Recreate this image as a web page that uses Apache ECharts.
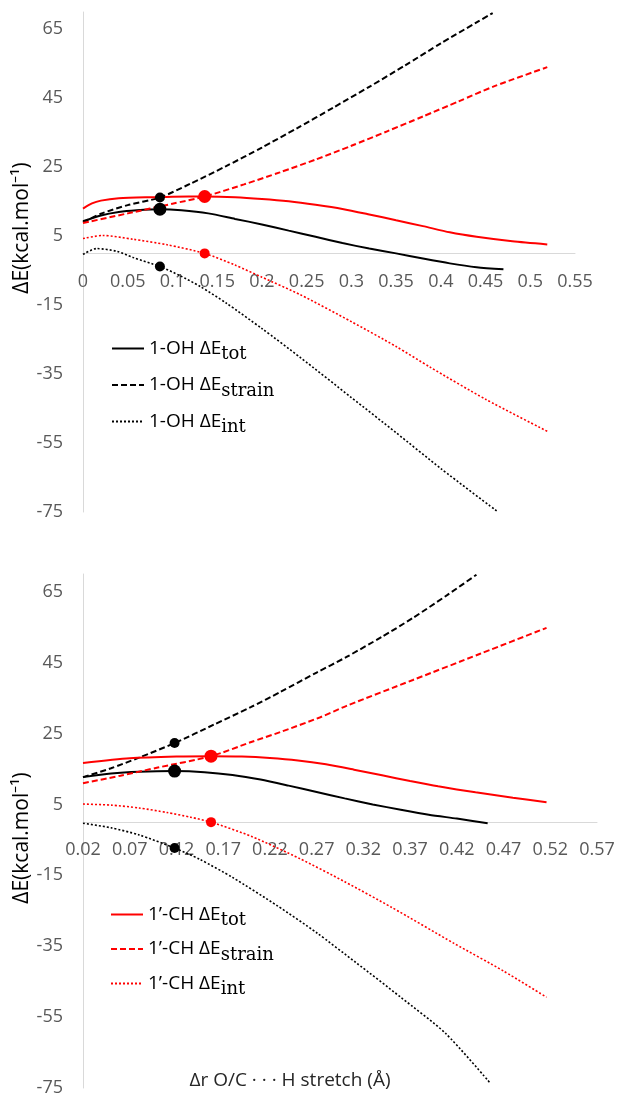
<!DOCTYPE html>
<html>
<head>
<meta charset="utf-8">
<script src="https://cdn.jsdelivr.net/npm/echarts@6/dist/echarts.min.js"></script>
<style>
  html, body { margin: 0; padding: 0; background: #fff; }
  #chart { width: 618px; height: 1093px; }
</style>
</head>
<body>
<div id="chart"></div>
<script>
// ---- top panel (x from 0) ----
const topOhTotX = [0, 0.02, 0.04, 0.06, 0.086, 0.11, 0.14, 0.17, 0.2, 0.23, 0.26, 0.29, 0.32, 0.35, 0.38, 0.41, 0.44, 0.47];
const topOhTotY = [9.3, 11.0, 12.0, 12.5, 12.8, 12.5, 11.6, 10.0, 8.4, 6.6, 4.8, 3.0, 1.4, 0.0, -1.5, -2.9, -4.0, -4.6];
const topOhStrainX = [0, 0.02, 0.05, 0.086, 0.12, 0.16, 0.2, 0.24, 0.28, 0.32, 0.36, 0.4, 0.44, 0.458];
const topOhStrainY = [9.0, 11.5, 14.0, 16.2, 20.2, 25.3, 30.7, 36.4, 42.3, 48.3, 54.5, 60.9, 67.0, 69.7];
const topOhIntX = [0, 0.015, 0.038, 0.056, 0.086, 0.108, 0.131, 0.16, 0.2, 0.243, 0.3, 0.35, 0.4, 0.463];
const topOhIntY = [-0.3, 1.4, 0.6, -1.2, -3.8, -6.4, -9.6, -14.4, -21.8, -30.2, -41.8, -52.0, -62.4, -74.8];
const topChTotX = [0, 0.01, 0.02, 0.04, 0.07, 0.1, 0.136, 0.17, 0.2, 0.23, 0.26, 0.29, 0.32, 0.35, 0.38, 0.41, 0.44, 0.48, 0.519];
const topChTotY = [13.0, 14.5, 15.3, 16.0, 16.3, 16.4, 16.5, 16.3, 15.8, 15.1, 14.1, 12.9, 11.3, 9.6, 7.9, 6.1, 4.8, 3.5, 2.6];
const topChStrainX = [0, 0.05, 0.1, 0.136, 0.18, 0.22, 0.26, 0.3, 0.34, 0.38, 0.42, 0.46, 0.519];
const topChStrainY = [8.8, 11.6, 14.4, 16.5, 20.0, 23.5, 27.2, 31.2, 35.4, 39.7, 44.1, 48.5, 54.0];
const topChIntX = [0, 0.022, 0.056, 0.094, 0.136, 0.17, 0.2, 0.243, 0.3, 0.35, 0.388, 0.45, 0.519];
const topChIntY = [4.3, 5.2, 4.1, 2.5, 0, -3.4, -6.9, -12.0, -19.8, -27.0, -33.0, -42.3, -51.6];
// highlighted points: [x, tot, strain, int]
const topOhMark = [0.086, 12.8, 16.2, -3.8];
const topChMark = [0.136, 16.5, 16.5, 0];

// ---- bottom panel (x from 0.02) ----
const botOhTotX = [0.02, 0.05, 0.08, 0.118, 0.15, 0.18, 0.21, 0.24, 0.27, 0.3, 0.33, 0.36, 0.39, 0.42, 0.453];
const botOhTotY = [12.7, 13.7, 14.2, 14.4, 14.1, 13.3, 12.0, 10.3, 8.5, 6.7, 5.0, 3.5, 2.1, 1.0, -0.3];
const botOhStrainX = [0.02, 0.05, 0.08, 0.118, 0.16, 0.2, 0.231, 0.27, 0.302, 0.34, 0.373, 0.41, 0.441];
const botOhStrainY = [12.7, 15.2, 18.2, 22.3, 27.5, 32.5, 36.7, 42.2, 46.6, 52.3, 57.6, 64.1, 69.8];
const botOhIntX = [0.02, 0.05, 0.08, 0.118, 0.145, 0.18, 0.228, 0.27, 0.312, 0.36, 0.408, 0.455];
const botOhIntY = [-0.3, -1.6, -3.6, -7.3, -10.5, -15.6, -23.6, -31.2, -39.6, -49.4, -59.6, -73.4];
const botChTotX = [0.02, 0.07, 0.12, 0.157, 0.19, 0.22, 0.25, 0.28, 0.31, 0.34, 0.37, 0.4, 0.44, 0.48, 0.516];
const botChTotY = [16.7, 18.0, 18.5, 18.6, 18.5, 18.1, 17.4, 16.3, 14.8, 13.2, 11.6, 10.1, 8.4, 6.9, 5.6];
const botChStrainX = [0.02, 0.06, 0.1, 0.157, 0.2, 0.231, 0.274, 0.302, 0.373, 0.445, 0.516];
const botChStrainY = [11.0, 13.1, 15.4, 18.6, 22.6, 25.4, 29.6, 32.8, 40.1, 47.5, 54.8];
const botChIntX = [0.02, 0.05, 0.08, 0.11, 0.135, 0.157, 0.2, 0.252, 0.3, 0.35, 0.417, 0.47, 0.516];
const botChIntY = [5.1, 4.8, 4.0, 2.7, 1.4, 0, -4.0, -10.3, -16.8, -24.0, -34.2, -42.0, -49.4];
const botOhMark = [0.118, 14.4, 22.3, -7.3];
const botChMark = [0.157, 18.6, 18.6, 0];

// series names, "|" splits off the subscript
const ohNames = ['1-OH ΔE|tot', '1-OH ΔE|strain', '1-OH ΔE|int'];
const chNames = ['1’-CH ΔE|tot', '1’-CH ΔE|strain', '1’-CH ΔE|int'];

const Y_MIN = -75;
const Y_MAX = 70;
const BLACK = '#000000';
const RED = '#ff0000';
const TICK_FONT = '"Open Sans", sans-serif';

function zip(xs, ys) {
  return xs.map((x, i) => [x, ys[i]]);
}

function lineSeries(name, xs, ys, color, kind, gridIdx, mark, markSize) {
  const styles = {
    tot: { width: 2, type: 'solid' },
    strain: { width: 2, type: [6, 3] },
    int: { width: 1.6, type: [2, 2] },
  };
  const s = {
    name,
    type: 'line',
    xAxisIndex: gridIdx,
    yAxisIndex: gridIdx,
    data: zip(xs, ys),
    smooth: 0.25,
    symbol: 'none',
    color,
    lineStyle: { color, ...styles[kind] },
  };
  if (mark) {
    s.markPoint = {
      symbol: 'circle',
      symbolSize: markSize,
      label: { show: false },
      itemStyle: { color },
      data: [{ coord: mark }],
    };
  }
  return s;
}

function panelSeries(gridIdx, oh, ch, ohMark, chMark) {
  const kinds = ['tot', 'strain', 'int'];
  const sizes = [13, 10, 10];
  const out = [];
  kinds.forEach((k, i) => {
    out.push(lineSeries(ohNames[i], oh[i][0], oh[i][1], BLACK, k, gridIdx,
      [ohMark[0], ohMark[i + 1]], sizes[i]));
  });
  kinds.forEach((k, i) => {
    const m = k === 'strain' ? null : [chMark[0], chMark[i + 1]];
    out.push(lineSeries(chNames[i], ch[i][0], ch[i][1], RED, k, gridIdx, m, sizes[i]));
  });
  return out;
}

const series = [
  ...panelSeries(0,
    [[topOhTotX, topOhTotY], [topOhStrainX, topOhStrainY], [topOhIntX, topOhIntY]],
    [[topChTotX, topChTotY], [topChStrainX, topChStrainY], [topChIntX, topChIntY]],
    topOhMark, topChMark),
  ...panelSeries(1,
    [[botOhTotX, botOhTotY], [botOhStrainX, botOhStrainY], [botOhIntX, botOhIntY]],
    [[botChTotX, botChTotY], [botChStrainX, botChStrainY], [botChIntX, botChIntY]],
    botOhMark, botChMark),
];

const grids = [
  { left: 83, right: 43, top: 12, height: 500 },
  { left: 83, right: 21, top: 574, height: 514 },
];

function xAxis(gridIdx, min, max) {
  // x axis sits at y = 0, labels travel with it
  const h = grids[gridIdx].height;
  const zeroOffset = -h * (0 - Y_MIN) / (Y_MAX - Y_MIN);
  return {
    type: 'value',
    gridIndex: gridIdx,
    min,
    max,
    interval: 0.05,
    offset: zeroOffset,
    axisLine: { onZero: false, lineStyle: { color: '#d9d9d9', width: 1 } },
    axisTick: { show: false },
    splitLine: { show: false },
    axisLabel: {
      color: '#595959',
      fontSize: 18,
      fontFamily: TICK_FONT,
      margin: 19,
      showMinLabel: true,
      showMaxLabel: true,
      hideOverlap: false,
    },
  };
}

function yAxis(gridIdx) {
  return {
    type: 'value',
    gridIndex: gridIdx,
    min: Y_MIN,
    max: Y_MAX,
    interval: 20,
    axisLine: { show: true, onZero: false, lineStyle: { color: '#d9d9d9', width: 1 } },
    axisTick: { show: false },
    splitLine: { show: false },
    axisLabel: {
      color: '#595959',
      fontSize: 18,
      fontFamily: TICK_FONT,
      margin: 20,
      showMaxLabel: false,
    },
  };
}

function legend(names, left, top, gap) {
  return {
    data: names,
    orient: 'vertical',
    left,
    top,
    itemWidth: 32,
    itemHeight: 14,
    itemGap: gap,
    selectedMode: false,
    itemStyle: { opacity: 0, borderWidth: 0 },
    formatter: (name) => {
      const [main, sub] = name.split('|');
      return `{m|${main}}{s|${sub}}`;
    },
    textStyle: {
      rich: {
        m: { fontFamily: TICK_FONT, fontSize: 19, color: '#000' },
        s: { fontFamily: '"DejaVu Serif", serif', fontSize: 18, color: '#000', padding: [12, 0, 0, 0] },
      },
    },
  };
}

function vText(text, x, y) {
  return {
    type: 'text',
    x,
    y,
    rotation: Math.PI / 2,
    style: {
      text,
      font: '21px "Open Sans", sans-serif',
      fill: '#000',
      textAlign: 'center',
      textVerticalAlign: 'middle',
      align: 'center',
      verticalAlign: 'middle',
    },
  };
}

const chart = echarts.init(document.getElementById('chart'));
chart.setOption({
  animation: false,
  backgroundColor: '#fff',
  grid: grids.map((g) => ({ ...g, outerBoundsMode: 'none', containLabel: false })),
  xAxis: [xAxis(0, 0, 0.55), xAxis(1, 0.02, 0.57)],
  yAxis: [yAxis(0), yAxis(1)],
  legend: [
    legend(ohNames, 106, 334, 12),
    legend(chNames, 105, 900, 10),
  ],
  graphic: [
    vText('ΔE(kcal.mol⁻¹)', 22, 228),
    vText('ΔE(kcal.mol⁻¹)', 22, 838),
    {
      type: 'text',
      x: 290,
      y: 1081,
      style: {
        text: 'Δr O/C · · · H stretch (Å)',
        font: '19px "Open Sans", sans-serif',
        fill: '#262626',
        textAlign: 'center',
        textVerticalAlign: 'middle',
        align: 'center',
        verticalAlign: 'middle',
      },
    },
  ],
  series,
});
</script>
</body>
</html>
